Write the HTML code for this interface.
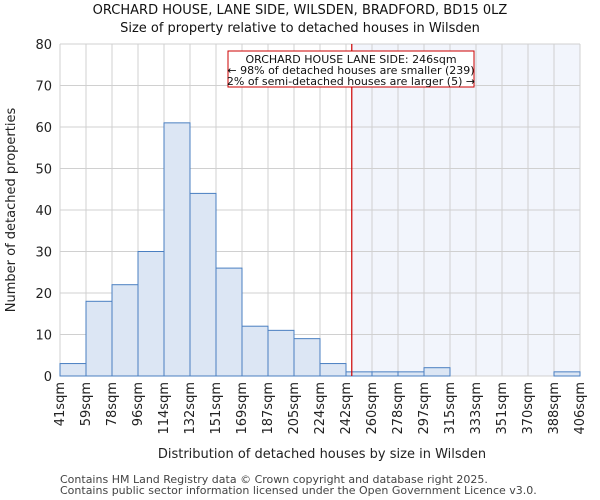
<!DOCTYPE html>
<html><head><meta charset="utf-8"><style>body{margin:0;background:#fff}svg{display:block;font-family:"DejaVu Sans","Liberation Sans",sans-serif}</style></head>
<body>
<svg id="c" width="600" height="500" xmlns="http://www.w3.org/2000/svg"></svg>
<script>
const labels=["41sqm","59sqm","78sqm","96sqm","114sqm","132sqm","151sqm","169sqm","187sqm","205sqm","224sqm","242sqm","260sqm","278sqm","297sqm","315sqm","333sqm","351sqm","370sqm","388sqm","406sqm"];
const values=[3,18,22,30,61,44,26,12,11,9,3,1,1,1,2,0,0,0,0,1];
const yTicks=[0,10,20,30,40,50,60,70,80];
const markerBin=11+4/18;
const X0=60,X1=580,Y0=376,Y1=44;
const n=values.length,bw=(X1-X0)/n;
const xs=i=>X0+i*bw, ys=v=>Y0-(v/80)*(Y0-Y1);
const s=document.getElementById('c');const NS="http://www.w3.org/2000/svg";
function mk(t,a,txt){const e=document.createElementNS(NS,t);for(const k in a)e.setAttribute(k,a[k]);if(txt!=null)e.textContent=txt;s.appendChild(e);return e;}
let e;
e=mk('rect',{x:X0,y:Y1,width:X1-X0,height:Y0-Y1,fill:'#fff'});


const mx=xs(markerBin);
e=mk('rect',{x:mx,y:Y1,width:X1-mx,height:Y0-Y1,fill:'#f2f5fc'});


for(let i=0;i<=n;i++){e=mk('line',{x1:xs(i),x2:xs(i),y1:Y1,y2:Y0,stroke:'#d0d0d0','stroke-width':1});

}
yTicks.forEach(v=>{e=mk('line',{x1:X0,x2:X1,y1:ys(v),y2:ys(v),stroke:'#d0d0d0','stroke-width':1});


e=mk('text',{x:X0-8,y:ys(v)+5,'text-anchor':'end','font-size':13,fill:'#222'},v);

});
values.forEach((v,i)=>{if(v<=0)return;e=mk('rect',{x:xs(i),y:ys(v),width:bw,height:Y0-ys(v),fill:'#dce6f4',stroke:'#4a7fc1','stroke-width':1});

});
e=mk('line',{x1:mx,x2:mx,y1:Y1,y2:Y0,stroke:'#cc0000','stroke-width':1.2});


labels.forEach((l,i)=>{const x=xs(i)+4,y=Y0+6;e=mk('text',{x:x,y:y,transform:`rotate(-90 ${x} ${y})`,'text-anchor':'end','font-size':13,fill:'#222'},l);

});
e=mk('rect',{x:228,y:51,width:246,height:36,fill:'#fff',stroke:'#cc0000','stroke-width':1});


[["ORCHARD HOUSE LANE SIDE: 246sqm",63],["← 98% of detached houses are smaller (239)",74],["2% of semi-detached houses are larger (5) →",85]].forEach(([t,y])=>{e=mk('text',{x:351,y:y,'text-anchor':'middle','font-size':11,fill:'#111'},t);

});
e=mk('text',{x:300,y:14,'text-anchor':'middle','font-size':13,fill:'#111'},"ORCHARD HOUSE, LANE SIDE, WILSDEN, BRADFORD, BD15 0LZ");


e=mk('text',{x:300,y:32,'text-anchor':'middle','font-size':13,fill:'#111'},"Size of property relative to detached houses in Wilsden");


e=mk('text',{x:15,y:210,transform:'rotate(-90 15 210)','text-anchor':'middle','font-size':13,fill:'#222'},"Number of detached properties");


e=mk('text',{x:322,y:458,'text-anchor':'middle','font-size':13,fill:'#222'},"Distribution of detached houses by size in Wilsden");


e=mk('text',{x:60,y:483,'font-size':11,fill:'#444'},"Contains HM Land Registry data © Crown copyright and database right 2025.");


e=mk('text',{x:60,y:494,'font-size':11,fill:'#444'},"Contains public sector information licensed under the Open Government Licence v3.0.");


</script>
</body></html>
